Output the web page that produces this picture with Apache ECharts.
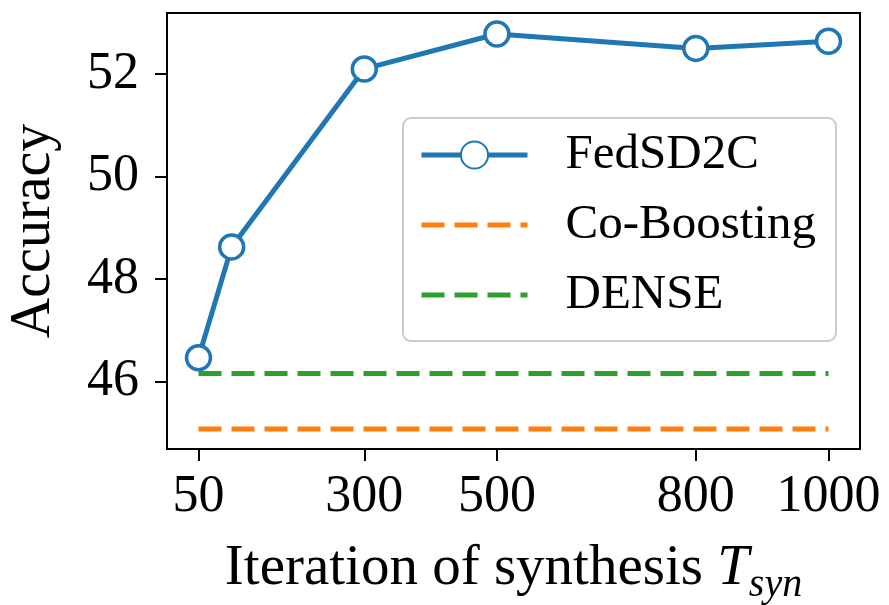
<!DOCTYPE html>
<html>
<head>
<meta charset="utf-8">
<script src="https://cdn.jsdelivr.net/npm/echarts@6/dist/echarts.min.js"></script>
<style>html,body{margin:0;padding:0;background:#fff}#c{width:889px;height:605px}</style>
</head>
<body>
<div id="c"></div>
<script>
const iterations = [50, 100, 300, 500, 800, 1000];
const fedsd2c = [46.47, 48.63, 52.10, 52.78, 52.50, 52.64];
const coBoostingValue = 45.08;
const denseValue = 46.16;
const baselineSpan = [50, 1000];
const xTickLabels = [50, 300, 500, 800, 1000];
const yTickLabels = [46, 48, 50, 52];

const FONT = "'Liberation Serif', 'Times New Roman', serif";
const chart = echarts.init(document.getElementById('c'), null, {renderer: 'canvas'});

chart.setOption({
  animation: false,
  backgroundColor: '#fff',
  grid: {left: 167, right: 29, top: 13, bottom: 156, show: true, borderColor: '#000', borderWidth: 2, backgroundColor: 'transparent', containLabel: false, outerBoundsMode: 'none'},
  legend: {
    left: 403, top: 118, orient: 'vertical',
    backgroundColor: '#fff', borderColor: '#cccccc', borderWidth: 2, borderRadius: 8,
    padding: [9, 20, 18, 16],
    itemWidth: 106, itemHeight: 34, itemGap: 14,
    lineStyle: {width: 5},
    textStyle: {fontFamily: FONT, fontSize: 49, color: '#000', lineHeight: 56, padding: [0, 0, 0, 33]},
    data: [
      {name: 'FedSD2C'},
      {name: 'Co-Boosting', itemStyle: {opacity: 0}},
      {name: 'DENSE', itemStyle: {opacity: 0}}
    ]
  },
  xAxis: {
    type: 'value', min: 2.5, max: 1047.5,
    name: '{n|Iteration of synthesis }{t|T}{s|syn}',
    nameLocation: 'middle', nameGap: 84,
    nameTextStyle: {
      rich: {
        n: {fontFamily: FONT, fontSize: 57, color: '#000', lineHeight: 72},
        t: {fontFamily: FONT, fontSize: 57, fontStyle: 'italic', color: '#000', lineHeight: 72},
        s: {fontFamily: FONT, fontSize: 40, fontStyle: 'italic', color: '#000', lineHeight: 72, verticalAlign: 'bottom'}
      }
    },
    splitLine: {show: false},
    axisLine: {show: true, onZero: false, lineStyle: {color: '#000', width: 2}},
    axisTick: {show: true, length: 12, lineStyle: {color: '#000', width: 2}, customValues: xTickLabels},
    axisLabel: {fontFamily: FONT, fontSize: 52, color: '#000', margin: 22, customValues: xTickLabels, formatter: v => String(v)}
  },
  yAxis: {
    type: 'value', min: 44.69, max: 53.19,
    name: 'Accuracy', nameLocation: 'middle', nameGap: 105, nameRotate: 90,
    nameTextStyle: {fontFamily: FONT, fontSize: 56, color: '#000'},
    splitLine: {show: false},
    axisLine: {show: true, onZero: false, lineStyle: {color: '#000', width: 2}},
    axisTick: {show: true, length: 12, lineStyle: {color: '#000', width: 2}, customValues: yTickLabels},
    axisLabel: {fontFamily: FONT, fontSize: 52, color: '#000', margin: 28, customValues: yTickLabels, formatter: v => String(v)}
  },
  series: [
    {
      name: 'FedSD2C', type: 'line',
      data: iterations.map((x, i) => [x, fedsd2c[i]]),
      symbol: 'circle', symbolSize: 24, showSymbol: true,
      lineStyle: {color: '#1f77b4', width: 5},
      itemStyle: {color: '#fff', borderColor: '#1f77b4', borderWidth: 3.5},
      z: 5
    },
    {
      name: 'Co-Boosting', type: 'line',
      data: baselineSpan.map(x => [x, coBoostingValue]),
      symbol: 'none',
      lineStyle: {color: '#ff7f0e', width: 5, type: [23, 10]},
      itemStyle: {color: '#ff7f0e'}
    },
    {
      name: 'DENSE', type: 'line',
      data: baselineSpan.map(x => [x, denseValue]),
      symbol: 'none',
      lineStyle: {color: '#2ca02c', width: 5, type: [23, 10]},
      itemStyle: {color: '#2ca02c'}
    }
  ]
});
</script>
</body>
</html>
